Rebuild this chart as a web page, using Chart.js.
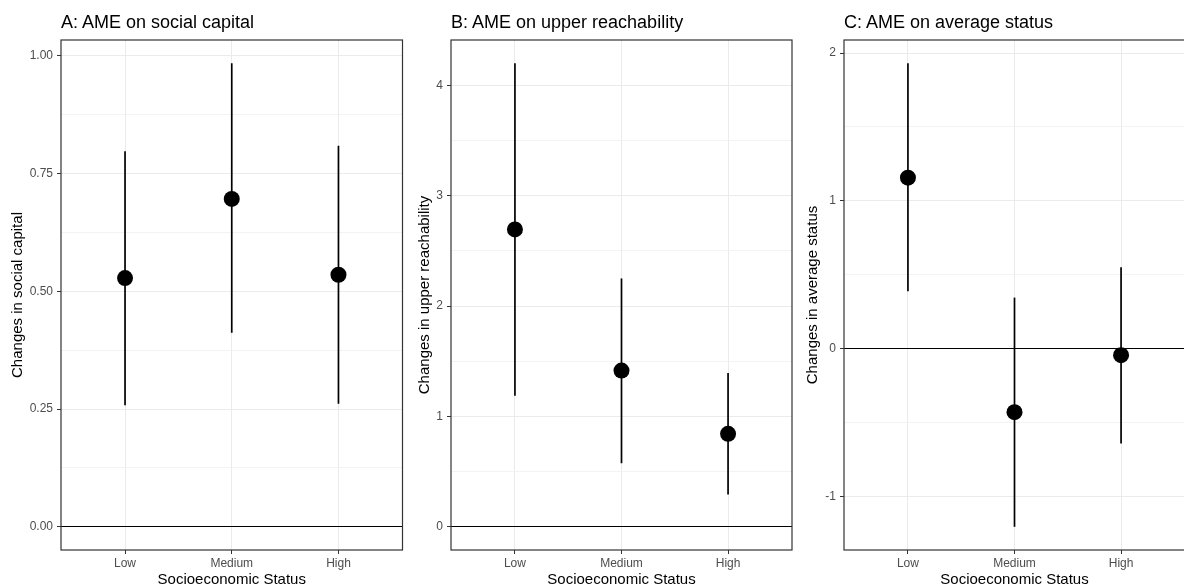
<!DOCTYPE html>
<html>
<head>
<meta charset="utf-8">
<script src="https://cdn.jsdelivr.net/npm/chart.js@4/dist/chart.umd.min.js"></script>
<style>
  html, body { margin: 0; padding: 0; background: #fff; overflow: hidden; }
  body { width: 1184px; height: 588px; position: relative; font-family: "Liberation Sans", Arial, sans-serif; }
  .panel { position: absolute; top: 0; }
  .ptitle { position: absolute; top: 13px; font-size: 18px; line-height: 18px; color: #000; white-space: nowrap; }
</style>
</head>
<body>
<canvas id="chartA" class="panel" width="405" height="588" style="left:0px"></canvas>
<canvas id="chartB" class="panel" width="390" height="588" style="left:405px"></canvas>
<canvas id="chartC" class="panel" width="394" height="588" style="left:796px"></canvas>
<div class="ptitle" style="left:61px">A: AME on social capital</div>
<div class="ptitle" style="left:451px">B: AME on upper reachability</div>
<div class="ptitle" style="left:844px">C: AME on average status</div>
<script>
const categories = ["Low", "Medium", "High"];

// A: social capital
const capitalEst = [0.528, 0.696, 0.535];
const capitalLower = [0.258, 0.412, 0.261];
const capitalUpper = [0.797, 0.984, 0.809];
const capitalTicks = [0, 0.25, 0.5, 0.75, 1];
const capitalTickLabels = ["0.00", "0.25", "0.50", "0.75", "1.00"];
const capitalMinor = [0.125, 0.375, 0.625, 0.875];

// B: upper reachability
const reachEst = [2.694, 1.415, 0.842];
const reachLower = [1.188, 0.576, 0.292];
const reachUpper = [4.2, 2.25, 1.394];
const reachTicks = [0, 1, 2, 3, 4];
const reachTickLabels = ["0", "1", "2", "3", "4"];
const reachMinor = [0.5, 1.5, 2.5, 3.5];

// C: average status
const statusEst = [1.157, -0.431, -0.045];
const statusLower = [0.388, -1.207, -0.643];
const statusUpper = [1.932, 0.345, 0.55];
const statusTicks = [-1, 0, 1, 2];
const statusTickLabels = ["-1", "0", "1", "2"];
const statusMinor = [-0.5, 0.5, 1.5];

const FONT = "'Liberation Sans', Arial, sans-serif";

const panelBorder = {
  id: "panelBorder",
  afterDatasetsDraw(chart) {
    const { ctx, chartArea: a } = chart;
    ctx.save();
    ctx.strokeStyle = "#333333";
    ctx.lineWidth = 1.2;
    ctx.strokeRect(a.left, a.top, a.right - a.left, a.bottom - a.top);
    ctx.restore();
  },
};

function isIn(list, v) {
  return list.some((t) => Math.abs(t - v) < 1e-9);
}

function makePanel(id, est, lower, upper, ticks, tickLabels, minor, yTitle, yWidth, padRight, titlePad) {
  const lo = Math.min(0, ...lower);
  const hi = Math.max(0, ...upper);
  const ext = (hi - lo) * 0.05;

  const datasets = [
    {
      data: est.map((v, i) => ({ x: i + 1, y: v })),
      pointRadius: 8,
      pointBackgroundColor: "#000",
      pointBorderWidth: 0,
      order: 0,
    },
  ];
  categories.forEach((c, i) => {
    datasets.push({
      data: [
        { x: i + 1, y: lower[i] },
        { x: i + 1, y: upper[i] },
      ],
      showLine: true,
      borderColor: "#000",
      borderWidth: 1.7,
      pointRadius: 0,
      order: 1,
    });
  });

  new Chart(document.getElementById(id), {
    type: "scatter",
    data: { datasets: datasets },
    plugins: [panelBorder],
    options: {
      responsive: false,
      devicePixelRatio: 1,
      animation: false,
      layout: { autoPadding: false, padding: { top: 40, right: padRight, bottom: 0, left: 0 } },
      plugins: { legend: { display: false }, tooltip: { enabled: false } },
      scales: {
        x: {
          type: "linear",
          min: 0.4,
          max: 3.6,
          afterBuildTicks: (axis) => {
            axis.ticks = categories.map((c, i) => ({ value: i + 1 }));
          },
          afterFit: (axis) => {
            axis.height = 38;
            axis.paddingLeft = 0;
            axis.paddingRight = 0;
          },
          ticks: {
            autoSkip: false,
            maxRotation: 0,
            padding: 2,
            color: "#4d4d4d",
            font: { family: FONT, size: 12 },
            callback: (v) => categories[Math.round(v) - 1],
          },
          grid: { color: "#ebebeb", lineWidth: 1, tickLength: 4, tickColor: "#333333" },
          border: { display: false },
          title: {
            display: true,
            text: "Socioeconomic Status",
            color: "#000",
            font: { family: FONT, size: 15 },
            padding: { top: 0, bottom: -1 },
          },
        },
        y: {
          type: "linear",
          min: lo - ext,
          max: hi + ext,
          afterBuildTicks: (axis) => {
            axis.ticks = ticks.concat(minor).sort((a, b) => a - b).map((v) => ({ value: v }));
          },
          afterFit: (axis) => {
            axis.width = yWidth;
            axis.paddingTop = 0;
            axis.paddingBottom = 0;
          },
          ticks: {
            autoSkip: false,
            padding: 4,
            color: "#4d4d4d",
            font: { family: FONT, size: 12 },
            callback: (v) => {
              const k = ticks.findIndex((t) => Math.abs(t - v) < 1e-9);
              return k >= 0 ? tickLabels[k] : "";
            },
          },
          grid: {
            color: (c) => (c.tick && Math.abs(c.tick.value) < 1e-9 ? "#000" : isIn(minor, c.tick ? c.tick.value : NaN) ? "#f0f0f0" : "#ebebeb"),
            lineWidth: (c) => (c.tick && isIn(minor, c.tick.value) ? 0.8 : 1),
            tickLength: 4,
            tickColor: (c) => (c.tick && isIn(minor, c.tick.value) ? "rgba(0,0,0,0)" : "#333333"),
          },
          border: { display: false },
          title: {
            display: true,
            text: yTitle,
            color: "#000",
            font: { family: FONT, size: 15 },
            padding: { top: titlePad, bottom: 0 },
          },
        },
      },
    },
  });
}

makePanel("chartA", capitalEst, capitalLower, capitalUpper, capitalTicks, capitalTickLabels, capitalMinor,
  "Changes in social capital", 61, 2.5, 8.5);
makePanel("chartB", reachEst, reachLower, reachUpper, reachTicks, reachTickLabels, reachMinor,
  "Changes in upper reachability", 46, 3, 11);
makePanel("chartC", statusEst, statusLower, statusUpper, statusTicks, statusTickLabels, statusMinor,
  "Changes in average status", 48, 5, 8);
</script>
</body>
</html>
